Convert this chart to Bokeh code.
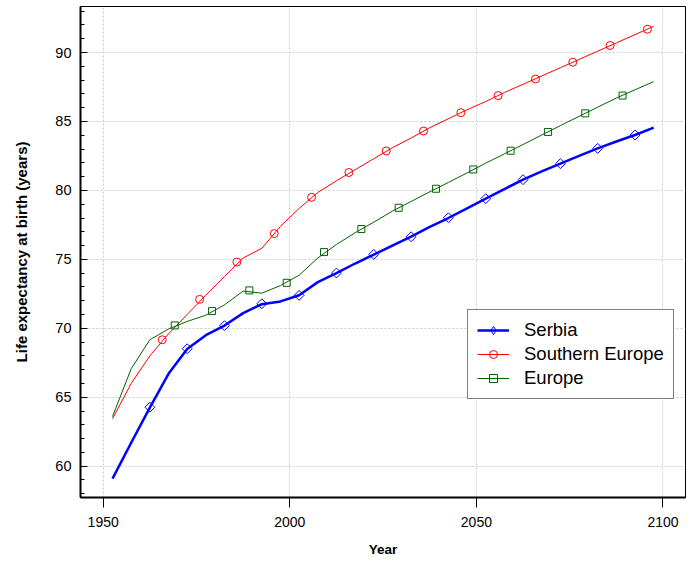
import numpy as np
from bokeh.plotting import figure
from bokeh.models import Range1d, SingleIntervalTicker, FixedTicker, Legend, LegendItem
from bokeh.embed import file_html
from bokeh.resources import INLINE

# ---- data ----
years = [1952.5, 1957.5, 1962.5, 1967.5, 1972.5, 1977.5, 1982.5, 1987.5, 1992.5, 1997.5,
         2002.5, 2007.5, 2012.5, 2017.5, 2022.5, 2027.5, 2032.5, 2037.5, 2042.5, 2047.5,
         2052.5, 2057.5, 2062.5, 2067.5, 2072.5, 2077.5, 2082.5, 2087.5, 2092.5, 2097.5]

serbia = [59.1, 61.7, 64.25, 66.7, 68.5, 69.5, 70.2, 71.1, 71.75, 71.95,
          72.4, 73.35, 74.0, 74.7, 75.35, 76.0, 76.65, 77.35, 78.0, 78.7,
          79.4, 80.1, 80.78, 81.38, 81.95, 82.5, 83.05, 83.55, 84.02, 84.55]

southern_europe = [63.44, 66.0, 68.0, 69.6, 71.0, 72.4, 73.75, 75.1, 75.8, 77.4,
                   78.7, 79.85, 80.7, 81.5, 82.3, 83.1, 83.8, 84.55, 85.2, 85.85,
                   86.45, 87.1, 87.7, 88.3, 88.9, 89.5, 90.1, 90.7, 91.3, 91.91]

europe = [63.6, 67.07, 69.17, 69.95, 70.5, 70.95, 71.7, 72.7, 72.55, 73.1,
          73.85, 75.1, 76.08, 76.93, 77.7, 78.5, 79.2, 79.9, 80.58, 81.27,
          81.98, 82.65, 83.33, 84.02, 84.7, 85.37, 86.04, 86.7, 87.3, 87.89]

serbia_marker_years = [1962.5, 1972.5, 1982.5, 1992.5, 2002.5, 2012.5, 2022.5,
                       2032.5, 2042.5, 2052.5, 2062.5, 2072.5, 2082.5, 2092.5]
serbia_marker_vals = [64.28, 68.52, 70.19, 71.78, 72.39, 74.01, 75.36,
                      76.64, 78.02, 79.40, 80.78, 81.94, 83.05, 84.02]

south_marker_years = [1965.83, 1975.83, 1985.83, 1995.83, 2005.83, 2015.83, 2025.83,
                      2035.83, 2045.83, 2055.83, 2065.83, 2075.83, 2085.83, 2095.83]
south_marker_vals = [69.17, 72.1, 74.81, 76.87, 79.5, 81.3, 82.86,
                     84.31, 85.64, 86.88, 88.08, 89.30, 90.51, 91.69]

europe_marker_years = [1969.17, 1979.17, 1989.17, 1999.17, 2009.17, 2019.17, 2029.17,
                       2039.17, 2049.17, 2059.17, 2069.17, 2079.17, 2089.17]
europe_marker_vals = [70.21, 71.25, 72.75, 73.3, 75.53, 77.2, 78.74,
                      80.12, 81.52, 82.88, 84.24, 85.59, 86.88]

x_ticks = [1950, 2000, 2050, 2100]

FONT = "Liberation Sans"
BLUE = "#0000ff"
RED = "#ff0000"
GREEN = "#006400"

p = figure(width=690, height=560, output_backend="svg", toolbar_location=None,
           x_range=Range1d(1943.92, 2106.03), y_range=Range1d(57.73, 93.34),
           min_border_left=80, min_border_right=5, min_border_top=6, min_border_bottom=63,
           background_fill_color="white", border_fill_color="white")
p.title = None
p.outline_line_color = "black"
p.outline_line_width = 1

l1 = p.line(years, serbia, line_color=BLUE, line_width=2.5)
s1 = p.scatter(serbia_marker_years, serbia_marker_vals, marker="square", angle=np.pi / 4,
               size=7, line_color=BLUE, fill_color=None, line_width=1)
# diamond used only for the legend key
s1_key = p.scatter(serbia_marker_years, serbia_marker_vals, marker="diamond",
                   size=10, line_color=BLUE, fill_color=None, line_width=1, visible=False)
l2 = p.line(years, southern_europe, line_color=RED, line_width=1)
s2 = p.scatter(south_marker_years, south_marker_vals, marker="circle", size=8,
               line_color=RED, fill_color=None, line_width=1)
l3 = p.line(years, europe, line_color=GREEN, line_width=1)
s3 = p.scatter(europe_marker_years, europe_marker_vals, marker="square", size=7,
               line_color=GREEN, fill_color=None, line_width=1)

# axes
xa = p.xaxis[0]
xa.ticker = FixedTicker(ticks=x_ticks, minor_ticks=[])
xa.axis_line_width = 2
xa.axis_line_color = "black"
xa.major_tick_in = 0
xa.major_tick_out = 10
xa.major_tick_line_color = "black"
xa.minor_tick_line_color = None
xa.major_label_standoff = 9
xa.major_label_text_font = FONT
xa.major_label_text_font_size = "14px"
xa.major_label_text_color = "black"
xa.axis_label = "Year"
xa.axis_label_text_font = FONT
xa.axis_label_text_font_style = "bold"
xa.axis_label_text_font_size = "13.5px"
xa.axis_label_text_color = "black"
xa.axis_label_standoff = 12

ya = p.yaxis[0]
ya.ticker = SingleIntervalTicker(interval=5, num_minor_ticks=5)
ya.axis_line_width = 2
ya.axis_line_color = "black"
ya.major_tick_in = 7
ya.major_tick_out = 0
ya.minor_tick_in = 4
ya.minor_tick_out = 0
ya.major_tick_line_color = "black"
ya.minor_tick_line_color = "black"
ya.major_label_standoff = 9
ya.major_label_text_font = FONT
ya.major_label_text_font_size = "14.5px"
ya.major_label_text_color = "black"
ya.axis_label = "Life expectancy at birth (years)"
ya.axis_label_text_font = FONT
ya.axis_label_text_font_style = "bold"
ya.axis_label_text_font_size = "15px"
ya.axis_label_text_color = "black"
ya.axis_label_standoff = 22

# grids
p.xgrid.ticker = FixedTicker(ticks=x_ticks)
for g in (p.xgrid[0], p.ygrid[0]):
    g.grid_line_color = "#cccccc"
    g.grid_line_dash = "2 2"
    g.grid_line_width = 1

legend = Legend(items=[LegendItem(label="Serbia", renderers=[l1, s1_key]),
                       LegendItem(label="Southern Europe", renderers=[l2, s2]),
                       LegendItem(label="Europe", renderers=[l3, s3])],
                location=(387, 98))
legend.border_line_color = "black"
legend.border_line_width = 1
legend.background_fill_color = "white"
legend.background_fill_alpha = 1
legend.label_text_font = FONT
legend.label_text_font_size = "18.5px"
legend.label_text_color = "black"
legend.glyph_width = 32
legend.glyph_height = 20
legend.label_height = 20
legend.spacing = 2
legend.padding = 9
legend.margin = 0
legend.label_standoff = 15
p.add_layout(legend)

open("out.html", "w").write(file_html(p, INLINE))
